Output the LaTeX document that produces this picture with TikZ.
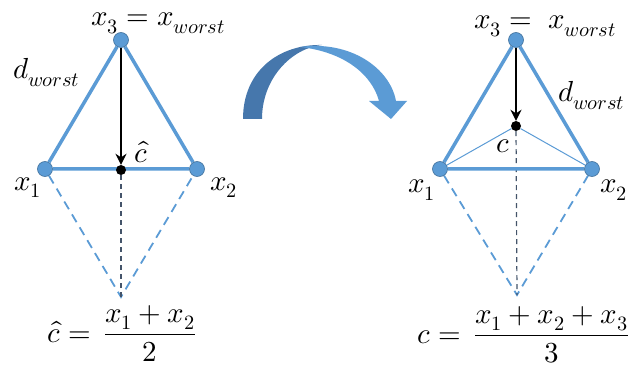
\documentclass[tikz,border=0pt]{standalone}
\usepackage{amsmath}
\usepackage{unicode-math}
\usetikzlibrary{arrows.meta, backgrounds}
\definecolor{ofblue}{HTML}{5B9BD5}
\definecolor{ofedge}{HTML}{41719C}
\definecolor{ofdark}{HTML}{44546A}
\definecolor{arrdark}{HTML}{4677AC}
\definecolor{arrlight}{HTML}{5B9BD5}

\begin{document}
\begin{tikzpicture}[x=1pt, y=-1pt,
    vertex/.style={circle, fill=ofblue, draw=ofedge, line width=0.6pt, minimum size=15pt, inner sep=0pt},
    centre/.style={circle, fill=black, minimum size=10pt, inner sep=0pt},
    lbl/.style={inner sep=0pt, anchor=base west, font=\fontsize{29}{34}\selectfont},
    side/.style={ofblue, line width=3.5pt},
    fold/.style={ofblue, line width=1.8pt, dash pattern=on 9pt off 6pt},
    midline/.style={ofdark, line width=1.2pt, dash pattern=on 5pt off 4pt}]
  \useasboundingbox (0,0) rectangle (633,369);

  % left: reflection through the midpoint
  \node[vertex] (lx3) at (121,40) {};
  \node[vertex] (lx1) at (45,169) {};
  \node[vertex] (lx2) at (197,169) {};
  \node[centre] (lc) at (121,170) {};
  \coordinate (lfoot) at (121,297);
  \begin{scope}[on background layer]
    \draw[fold] (lx1) -- (lfoot) -- (lx2);
    \draw[midline] (lc) -- (lfoot);
    \draw[side] (lx1) -- (lx3) -- (lx2) -- (lx1);
  \end{scope}
  \draw[-{Stealth[length=11pt, width=11pt]}, line width=2.5pt] (lx3) -- (lc);

  \node[lbl] (lt3) at (91,26) {$x_3 = x_{worst}$};
  \node[lbl] (ldw) at (13,79) {$d_{worst}$};
  \node[lbl] (lch) at (134,163) {$\hat{c}$};
  \node[lbl] (lt1) at (14,190) {$x_1$};
  \node[lbl] (lt2) at (210,190) {$x_2$};
  \node[lbl] (lform) at (47,342) {$\hat{c} = \,\dfrac{x_1 + x_2}{2}$};

  % curved arrow
  \fill[arrdark] (243,119) .. controls (243,70) and (280,44) .. (322,45)
    .. controls (292,48) and (262,78) .. (262,119) -- cycle;
  \fill[arrlight] (300,47) .. controls (350,40) and (390,68) .. (396,101)
    -- (407,101) -- (391,119) -- (369,101) -- (379,101)
    .. controls (372,75) and (345,52) .. (300,47) -- cycle;

  % right: reflection through the centroid
  \node[vertex] (rx3) at (516,40) {};
  \node[vertex] (rx1) at (440,169) {};
  \node[vertex] (rx2) at (592,169) {};
  \node[centre] (rc) at (516,126) {};
  \coordinate (rfoot) at (517,295);
  \begin{scope}[on background layer]
    \draw[fold] (rx1) -- (rfoot) -- (rx2);
    \draw[midline] (rc) -- (rfoot);
    \draw[ofblue, line width=1pt] (rx1) -- (rc) -- (rx2);
    \draw[side] (rx1) -- (rx3) -- (rx2) -- (rx1);
  \end{scope}
  \draw[-{Stealth[length=11pt, width=11pt]}, line width=2.5pt] (rx3) -- (rc);

  \node[lbl] (rt3) at (474,29) {$x_3 = \; x_{worst}$};
  \node[lbl] (rdw) at (558,102) {$d_{worst}$};
  \node[lbl] (rcl) at (496,153) {$c$};
  \node[lbl] (rt1) at (408,193) {$x_1$};
  \node[lbl] (rt2) at (600,193) {$x_2$};
  \node[lbl] (rform) at (417,343) {$c = \,\dfrac{x_1 + x_2 + x_3}{3}$};
\end{tikzpicture}
\end{document}
